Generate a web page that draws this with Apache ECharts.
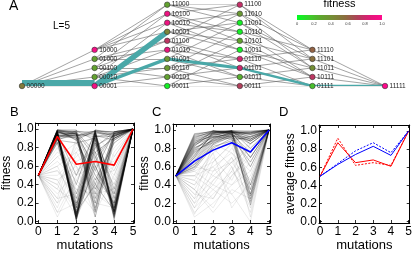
<!DOCTYPE html>
<html><head><meta charset="utf-8">
<script src="https://cdn.jsdelivr.net/npm/echarts@6/dist/echarts.min.js"></script>
<style>html,body{margin:0;padding:0;background:#fff}#c{width:415px;height:254px}</style>
</head><body><div id="c"></div>
<script>
// ---- Panel A data ----
const genotypes = ['00000',
  '10000','01000','00100','00010','00001',
  '11000','10100','10010','10001','01100','01010','01001','00110','00101','00011',
  '11100','11010','11001','10110','10101','10011','01110','01101','01011','00111',
  '11110','11101','11011','10111','01111',
  '11111'];
const fitnessA = [0.5,
  0.95,0.3,0.3,0.3,0.95,
  0.3,0.92,0.92,0.45,0.75,0.88,0.35,0.35,0.3,0.05,
  0.78,0.35,0.05,0.05,0.3,0.05,0.82,0.8,0.25,0.72,
  0.6,0.55,0.4,0.75,0.2,
  1.0];
const fluxEdges = [
  ['00000','00001',1.0],
  ['00001','10001',0.45],
  ['00001','01001',0.28],
  ['01001','01101',0.26],
  ['01101','01111',0.2],
  ['01111','11111',0.2]
];
const colorbarTicks = [0,0.2,0.4,0.6,0.8,1.0];
const fitnessColors = ['#00ff22','#3ad02a','#5fa52e','#788a36','#8c6c40','#b0405a','#e01a78','#ff0a8c'];

// ---- Panels B-D data ----
const mutationTicks = [0,1,2,3,4,5];
const fitnessTicks = [0,0.2,0.4,0.6,0.8,1.0];
const startFitness = 0.5, endFitness = 1.0;
const bPathsDark = [
  [0.97,0.05,0.96,0.10],[0.95,0.08,0.92,0.95],[0.98,0.95,0.10,0.93],[0.93,0.93,0.95,0.08],
  [0.96,0.12,0.85,0.15],[0.99,0.97,0.55,0.97],[0.90,0.03,0.98,0.92],[0.94,0.90,0.35,0.90],
  [0.97,0.20,0.97,0.05],[0.92,0.96,0.25,0.96],[0.98,0.06,0.70,0.12],[0.88,0.85,0.90,0.20],
  [0.95,0.02,0.93,0.88],[0.99,0.94,0.60,0.18],[0.91,0.40,0.99,0.94],[0.96,0.92,0.15,0.90],
  [0.93,0.10,0.80,0.97],[0.97,0.98,0.94,0.10],[0.85,0.15,0.96,0.30],[0.99,0.88,0.45,0.85],
  [0.94,0.05,0.99,0.96],[0.98,0.97,0.75,0.06],[0.90,0.30,0.92,0.92],[0.96,0.95,0.30,0.97],
  [0.92,0.08,0.60,0.15],[0.97,0.90,0.97,0.93],[0.95,0.04,0.88,0.10],[0.99,0.96,0.20,0.92],
  [0.89,0.93,0.98,0.25],[0.94,0.15,0.95,0.95],
  [0.96,0.01,0.90,0.04],[0.93,0.97,0.97,0.97],[0.98,0.10,0.40,0.12],[0.91,0.94,0.05,0.88],
  [0.97,0.92,0.98,0.02],[0.95,0.06,0.97,0.90],[0.99,0.02,0.65,0.95],[0.90,0.98,0.88,0.12],
  [0.94,0.25,0.93,0.08],[0.97,0.95,0.50,0.20],[0.92,0.03,0.82,0.93],[0.98,0.88,0.98,0.97],
  [0.86,0.09,0.99,0.07],[0.99,0.99,0.12,0.95],[0.93,0.18,0.75,0.90],[0.96,0.94,0.92,0.15],
  [0.95,0.50,0.96,0.11],[0.88,0.96,0.70,0.94],[0.97,0.07,0.94,0.35],[0.92,0.91,0.40,0.93]
];
const bPathsFaint = [
  [0.30,0.55,0.70,0.40],[0.20,0.40,0.25,0.60],[0.60,0.75,0.40,0.80],[0.45,0.10,0.55,0.30],
  [0.70,0.50,0.85,0.45],[0.15,0.65,0.35,0.70],[0.55,0.25,0.65,0.20],[0.35,0.85,0.50,0.55],
  [0.65,0.45,0.20,0.75],[0.25,0.30,0.75,0.50],[0.75,0.60,0.30,0.35],[0.40,0.80,0.60,0.65],
  [0.10,0.20,0.45,0.85],[0.80,0.35,0.10,0.50],[0.50,0.70,0.90,0.25],[0.05,0.45,0.80,0.40],
  [0.25,0.90,0.20,0.15],[0.60,0.15,0.90,0.60],[0.45,0.60,0.05,0.90],[0.35,0.20,0.85,0.10],
  [0.70,0.85,0.55,0.30],[0.10,0.50,0.60,0.95],[0.55,0.35,0.30,0.15],[0.85,0.65,0.75,0.55],
  [0.20,0.75,0.95,0.70],[0.40,0.05,0.45,0.60]
];
const cPathsDark = [
  [0.90,0.97,0.99,0.95],[0.85,0.95,0.98,0.90],[0.80,0.92,0.97,0.97],[0.75,0.90,0.95,0.85],
  [0.70,0.98,0.99,0.30],[0.65,0.88,0.93,0.92],[0.95,0.99,0.97,0.98],[0.60,0.85,0.96,0.75],
  [0.88,0.93,0.90,0.25],[0.72,0.96,0.99,0.96],[0.82,0.99,0.95,0.88],[0.78,0.86,0.92,0.65],
  [0.93,0.97,0.98,0.40],[0.68,0.91,0.97,0.95],[0.86,0.94,0.99,0.80],[0.57,0.82,0.88,0.93],
  [0.91,0.99,0.96,0.22],[0.76,0.89,0.94,0.97],[0.83,0.96,0.98,0.70],[0.63,0.80,0.91,0.90],
  [0.92,0.98,0.99,0.99],[0.87,0.97,0.98,0.93],[0.79,0.93,0.99,0.98],[0.73,0.95,0.97,0.88],
  [0.84,0.92,0.96,0.35],[0.66,0.90,0.98,0.96],[0.94,0.99,0.99,0.85],[0.62,0.87,0.94,0.70],
  [0.89,0.96,0.92,0.28],[0.77,0.97,0.99,0.92],[0.81,0.88,0.97,0.97],[0.70,0.92,0.95,0.60],
  [0.96,0.98,0.97,0.90],[0.59,0.84,0.93,0.88],[0.85,0.99,0.98,0.18]
];
const cPathsFaint = [
  [0.40,0.60,0.75,0.55],[0.25,0.45,0.65,0.80],[0.50,0.35,0.55,0.30],[0.15,0.55,0.80,0.60],
  [0.35,0.70,0.45,0.85],[0.45,0.25,0.60,0.15],[0.20,0.40,0.30,0.50],[0.55,0.65,0.85,0.05],
  [0.30,0.50,0.70,0.40],[0.10,0.30,0.50,0.70],[0.05,0.20,0.40,0.65],[0.50,0.75,0.15,0.45],
  [0.35,0.10,0.35,0.25],[0.60,0.55,0.65,0.35],[0.45,0.80,0.60,0.10],
  [0.20,0.65,0.85,0.75],[0.55,0.40,0.70,0.20],[0.30,0.25,0.55,0.90],[0.15,0.35,0.20,0.40],
  [0.65,0.50,0.40,0.55],[0.40,0.75,0.90,0.30],[0.08,0.45,0.65,0.85],[0.50,0.60,0.30,0.00],
  [0.25,0.85,0.75,0.45],[0.35,0.15,0.50,0.75]
];
const bMeanRed = [0.5,0.92,0.62,0.65,0.61,1.0];
const cMeanBlue = [0.5,0.66,0.78,0.86,0.76,1.0];
const dRedSolid = [0.5,0.87,0.65,0.68,0.61,1.0];
const dRedDashed = [0.5,0.92,0.62,0.65,0.62,1.0];
const dBlueSolid = [0.5,0.63,0.74,0.83,0.73,1.0];
const dBlueDashed = [0.5,0.64,0.78,0.87,0.76,1.0];

// ---- build ----
const FONT = 'Liberation Sans';
const ones = g => g.split('').filter(c => c === '1').length;
const columns = [[],[],[],[],[],[]];
genotypes.forEach(g => columns[ones(g)].push(g));
const pos = {};
columns.forEach((col, k) => col.forEach((g, i) => { pos[g] = [k, 10 - col.length + i]; }));
const nodeData = genotypes.map((g, i) => [pos[g][0], pos[g][1], fitnessA[i], g]);
const edgeData = [];
genotypes.forEach(g => genotypes.forEach(h => {
  if (ones(h) === ones(g) + 1) {
    let d = 0; for (let i = 0; i < 5; i++) if (g[i] !== h[i]) d++;
    if (d === 1) edgeData.push({coords: [pos[g], pos[h]]});
  }
}));
const fluxData = fluxEdges.map(e => ({coords: [pos[e[0]], pos[e[1]]], lineStyle: {width: e[2] * 12}}));
const toCoords = v => v.map((y, i) => [i, y]);
const pathCoords = p => ({coords: toCoords([startFitness, ...p, endFitness])});

function frameAxes(gi, xmin, xmax, ymin, ymax, yName, yGap) {
  const tickStyle = {color: '#000', width: 0.8};
  const base = {gridIndex: gi, type: 'value', splitLine: {show: false},
    axisLine: {show: true, onZero: false, lineStyle: {color: '#000', width: 1}}};
  return {
    x: [
      Object.assign({}, base, {position: 'bottom', min: xmin, max: xmax,
        axisTick: {show: true, inside: true, length: 3, customValues: mutationTicks, lineStyle: tickStyle},
        axisLabel: {show: true, customValues: mutationTicks, fontSize: 12, color: '#000', margin: 3, fontFamily: FONT},
        name: 'mutations', nameLocation: 'middle', nameGap: 16,
        nameTextStyle: {fontSize: 13, color: '#000', fontFamily: FONT}}),
      Object.assign({}, base, {position: 'top', min: xmin, max: xmax,
        axisTick: {show: true, inside: true, length: 3, customValues: mutationTicks, lineStyle: tickStyle},
        axisLabel: {show: false}})
    ],
    y: [
      Object.assign({}, base, {position: 'left', min: ymin, max: ymax,
        axisTick: {show: true, inside: true, length: 3, customValues: fitnessTicks, lineStyle: tickStyle},
        axisLabel: {show: true, customValues: fitnessTicks, fontSize: 12, color: '#000', margin: 2, fontFamily: FONT,
          formatter: v => Number(v).toFixed(1)},
        name: yName, nameLocation: 'middle', nameGap: yGap,
        nameTextStyle: {fontSize: 12, color: '#000', fontFamily: FONT}}),
      Object.assign({}, base, {position: 'right', min: ymin, max: ymax,
        axisTick: {show: true, inside: true, length: 3, customValues: fitnessTicks, lineStyle: tickStyle},
        axisLabel: {show: false}})
    ]
  };
}

const fB = frameAxes(2, -0.15, 5.05, -0.015, 1.065, 'fitness', 20);
const fC = frameAxes(3, -0.15, 5.05, -0.015, 1.065, 'fitness', 20);
const fD = frameAxes(4, -0.06, 5.06, -0.015, 1.065, 'average fitness', 20);

const xAxes = [
  {gridIndex: 0, type: 'value', min: 0, max: 5, show: false},
  {gridIndex: 1, type: 'value', min: 0, max: 1, axisLine: {show: false}, axisTick: {show: false}, splitLine: {show: false},
    axisLabel: {customValues: colorbarTicks, fontSize: 4, color: '#333', margin: 2, fontFamily: FONT,
      formatter: v => (v === 0 ? '0' : Number(v).toFixed(1))}},
  ...fB.x, ...fC.x, ...fD.x
];
const yAxes = [
  {gridIndex: 0, type: 'value', min: 0, max: 9, inverse: true, show: false},
  {gridIndex: 1, type: 'value', min: 0, max: 1, show: false},
  ...fB.y, ...fC.y, ...fD.y
];

const pathSeries = (xi, dark, faint) => [
  {type: 'lines', coordinateSystem: 'cartesian2d', xAxisIndex: xi, yAxisIndex: xi, polyline: true, silent: true,
    data: faint.map(pathCoords), lineStyle: {color: '#000', width: 0.8, opacity: 0.1}, z: 2},
  {type: 'lines', coordinateSystem: 'cartesian2d', xAxisIndex: xi, yAxisIndex: xi, polyline: true, silent: true,
    data: dark.map(pathCoords), lineStyle: {color: '#000', width: 0.8, opacity: 0.3}, z: 3}
];
const lineS = (xi, vals, color, type, width) => ({type: 'line', xAxisIndex: xi, yAxisIndex: xi, data: toCoords(vals),
  symbol: 'none', silent: true, lineStyle: {color: color, width: width, type: type}, z: 5});

const chart = echarts.init(document.getElementById('c'), null, {renderer: 'canvas'});
chart.setOption({
  animation: false,
  backgroundColor: '#fff',
  grid: [
    {left: 22, right: 30, top: 4.7, bottom: 168},
    {left: 297, width: 85, top: 15, height: 5},
    {left: 33, top: 123, width: 101, height: 100},
    {left: 173, top: 124, width: 97, height: 99},
    {left: 319, top: 125, width: 95, height: 98}
  ],
  xAxis: xAxes,
  yAxis: yAxes,
  visualMap: [{type: 'continuous', show: false, seriesIndex: 2, dimension: 2, min: 0, max: 1,
    inRange: {color: fitnessColors}}],
  graphic: [
    {type: 'text', left: 9, top: -1, style: {text: 'A', fontSize: 14, fontFamily: FONT, fill: '#000'}},
    {type: 'text', left: 53, top: 21, style: {text: 'L=5', fontSize: 10, fontFamily: FONT, fill: '#000'}},
    {type: 'text', x: 339.5, y: 4, style: {text: 'fitness', fontSize: 11, fontFamily: FONT, fill: '#000', align: 'center', verticalAlign: 'middle'}},
    {type: 'text', left: 10, top: 106, style: {text: 'B', fontSize: 13, fontFamily: FONT, fill: '#000'}},
    {type: 'text', left: 152, top: 106, style: {text: 'C', fontSize: 13, fontFamily: FONT, fill: '#000'}},
    {type: 'text', left: 279, top: 106, style: {text: 'D', fontSize: 13, fontFamily: FONT, fill: '#000'}}
  ],
  series: [
    {type: 'lines', coordinateSystem: 'cartesian2d', xAxisIndex: 0, yAxisIndex: 0, silent: true,
      data: edgeData, lineStyle: {color: '#666', width: 0.6, opacity: 1}, z: 1},
    {type: 'lines', coordinateSystem: 'cartesian2d', xAxisIndex: 0, yAxisIndex: 0, silent: true,
      data: fluxData, lineStyle: {color: '#4aa8a8', opacity: 1, cap: 'butt'}, z: 2},
    {type: 'scatter', xAxisIndex: 0, yAxisIndex: 0, data: nodeData, symbolSize: 5.5, silent: true,
      itemStyle: {borderColor: '#333', borderWidth: 0.6, opacity: 1}, z: 3,
      label: {show: true, position: 'right', distance: 1.5, fontSize: 6.5, color: '#222', fontFamily: FONT,
        formatter: p => p.data[3]}},
    {type: 'custom', xAxisIndex: 1, yAxisIndex: 1, silent: true, data: [[0, 0, 1, 1]],
      renderItem: (params, api) => {
        const p0 = api.coord([api.value(0), api.value(1)]);
        const p1 = api.coord([api.value(2), api.value(3)]);
        return {type: 'rect', shape: {x: p0[0], y: p1[1], width: p1[0] - p0[0], height: p0[1] - p1[1]},
          style: {fill: new echarts.graphic.LinearGradient(0, 0, 1, 0,
            fitnessColors.map((c, i) => ({offset: i / (fitnessColors.length - 1), color: c})))}};
      }},
    ...pathSeries(2, bPathsDark, bPathsFaint),
    lineS(2, bMeanRed, '#ff0000', 'solid', 1.6),
    ...pathSeries(4, cPathsDark, cPathsFaint),
    lineS(4, cMeanBlue, '#0000ff', 'solid', 1.6),
    lineS(6, dRedSolid, '#ff0000', 'solid', 1),
    lineS(6, dRedDashed, '#ff0000', [2, 1.5], 1),
    lineS(6, dBlueSolid, '#0000ff', 'solid', 1),
    lineS(6, dBlueDashed, '#0000ff', [2, 1.5], 1)
  ]
});
</script></body></html>
